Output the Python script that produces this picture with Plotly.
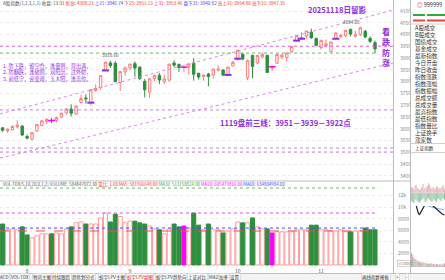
import plotly.graph_objects as go

W, H = 445, 280
FONT = "Noto Sans CJK SC"

# ---------------- data ----------------
idx = list(range(77))
opens = [3604, 3591, 3597, 3608, 3612, 3567, 3556, 3590, 3614, 3632,
         3635.5, 3636, 3650, 3667, 3684, 3663, 3712, 3731, 3711, 3763,
         3775, 3848, 3880, 3879, 3796, 3842, 3859, 3877, 3862, 3802,
         3756, 3813, 3827, 3800, 3807, 3880, 3874, 3861, 3863, 3880,
         3836, 3822, 3833, 3829, 3849, 3850, 3829, 3867, 3898, 3917,
         3817, 3912, 3880, 3905, 3912, 3858, 3879, 3905, 3903, 3928,
         3975, 3983, 3994, 4011, 3984, 3945, 3955, 3928, 3983, 3992,
         3996, 4022, 3994, 4002, 4015, 3985, 3966]
highs = [3606, 3600, 3615, 3636, 3613, 3575, 3584, 3618, 3635, 3645,
         3646, 3652, 3668, 3688, 3704, 3698, 3745, 3746, 3767, 3788,
         3826, 3884, 3888.6, 3887, 3845, 3866, 3875.8, 3887, 3866, 3812,
         3816, 3830, 3837, 3830, 3876, 3891, 3877, 3872, 3877, 3899.96,
         3838, 3829, 3838, 3855, 3870, 3853, 3863, 3888, 3936.6, 3923,
         3895, 3915, 3915, 3925, 3915, 3866, 3917, 3920, 3925, 3951,
         3999, 4010, 4016.6, 4025.7, 3988, 3978, 3980, 3971, 4009, 4004,
         4020, 4027, 4016, 4034.08, 4021, 3993, 3975]
lows = [3587, 3583, 3592, 3601, 3569, 3555, 3550, 3587, 3611, 3620,
        3624, 3626, 3645, 3660, 3652, 3659, 3706, 3707, 3699, 3758,
        3766, 3846, 3859, 3798, 3761, 3825, 3849, 3821, 3807, 3733,
        3731, 3803, 3791, 3791, 3800, 3863, 3842, 3842, 3830, 3805,
        3809, 3804, 3780, 3815, 3844, 3826, 3826, 3866, 3889, 3891,
        3807, 3815, 3876, 3899, 3838, 3845, 3876, 3896, 3885, 3924,
        3970, 3980, 3982, 3982, 3951, 3937, 3948, 3928, 3980, 3985,
        3990, 3994, 3988, 3994, 3985, 3965, 3921]
closes = [3593.7, 3597.9, 3609.7, 3615.7, 3573.2, 3560.0, 3583.3, 3617.6, 3634.0, 3639.7,
          3635.1, 3647.6, 3665.9, 3683.5, 3666.4, 3696.8, 3728.0, 3727.3, 3766.2, 3771.1,
          3825.8, 3883.6, 3868.4, 3800.4, 3843.6, 3857.9, 3875.5, 3858.1, 3813.6, 3765.9,
          3812.5, 3826.8, 3807.3, 3812.2, 3875.3, 3870.6, 3860.5, 3861.9, 3876.3, 3831.7,
          3820.1, 3828.6, 3821.8, 3853.6, 3853.3, 3828.1, 3862.5, 3882.8, 3934.0, 3897.0,
          3889.5, 3865.2, 3912.2, 3916.2, 3839.8, 3863.9, 3916.3, 3913.8, 3922.4, 3950.3,
          3996.9, 3988.2, 4016.3, 3986.9, 3954.8, 3976.5, 3960.2, 3969.3, 4007.8, 3997.6,
          4018.6, 4002.8, 4000.1, 4029.5, 3990.5, 3972.0, 3939.8]
volume = [7100, 6100, 6250, 6100, 6600, 5200, 4700, 5050, 5400, 5400,
          5400, 5550, 5400, 6250, 6600, 7300, 7450, 7100, 7100, 7100,
          8150, 9000, 7450, 8800, 8400, 7300, 7600, 7600, 7300, 7100,
          6750, 6250, 6100, 5400, 6250, 7100, 6600, 6750, 6400, 9000,
          6900, 6100, 7100, 6100, 6100, 5550, 5900, 6250, 7450, 7300,
          7300, 8150, 6600, 6250, 6250, 5550, 5750, 5750, 5750, 5750,
          6100, 6100, 6100, 6900, 6900, 6100, 6100, 5900, 5900, 6100,
          5750, 5750, 5900, 5900, 6400, 6100, 6100]
doji_days = [10, 37, 55]
magenta_vol_days = [37, 55]
signal_days = [18, 21, 46, 48, 60, 61, 68]
date_tick_idx = [5, 26, 48, 65]
date_tick_text = ["8", "9", "10", "11"]
price_ticks = [3400, 3450, 3500, 3550, 3600, 3650, 3700, 3750, 3800,
               3850, 3900, 3950, 4000, 4050, 4100]
vol_ticks = [2000, 4000, 6000, 8000, 10000, 12000]

# support / pressure levels and trend lines
level_3951, level_3922 = 3951, 3922
level_support = [3680, 3518, 3501]
trend_upper = ([-0.53, 79.67], [3663, 4105])
trend_lower = ([-0.53, 79.67], [3475, 3880])
vol_levels = [(13330, "#66bb66", "dot"), (9000, "#e050e0", "dot"),
              (6400, "#4a4aff", "dot"), (5890, "#ff4a4a", "dash")]

# mini intraday chart (right panel)
mini_x = list(range(30))
mini_price = [3962, 3964, 3966, 3963, 3955, 3946, 3938, 3936, 3940, 3945,
              3950, 3953, 3956, 3958, 3960, 3961, 3959, 3957, 3955, 3953,
              3950, 3948, 3946, 3944, 3942, 3940, 3939, 3937, 3936, 3935]
mini_avg = [3965, 3964, 3963, 3963, 3961, 3960, 3958, 3957, 3957, 3956,
            3955, 3955, 3954, 3954, 3953, 3953, 3952, 3951, 3951, 3950,
            3950, 3949, 3949, 3948, 3948, 3947, 3947, 3946, 3946, 3945]
mini_buy = [6, 5, 4, 7, 8, 5, 4, 3, 4, 6, 9, 5, 4, 6, 7, 10, 8, 5, 4, 6,
            5, 4, 7, 6, 5, 4, 5, 6, 8, 4]
mini_sell = [-8, -9, -10, -7, -6, -8, -9, -10, -8, -7, -5, -6, -9, -8, -6,
             -5, -7, -8, -9, -6, -7, -8, -9, -6, -5, -7, -8, -6, -5, -7]
mini_vol = [14, 12, 9, 8, 7, 6, 6, 5, 5, 4, 5, 4, 4, 3, 4, 3, 3, 4, 3, 3,
            3, 2, 3, 3, 2, 3, 2, 3, 2, 4]

side_labels = ["A股成交", "B股成交", "国债成交", "基金成交", "最新指数",
               "今日开盘", "昨日收盘", "指数涨跌", "指数涨幅", "指数振幅",
               "总成交额", "总成交量", "最高指数", "最低指数", "指数量比",
               "上证换手", "涨家数"]
tabs = [("ACD", 4, "#333"), ("VOL-TDX", 19.5, "#333"), ("物讯主图", 42, "#333"),
        ("持续跟踪", 61, "#333"), ("趋势划分式", 83, "#333"), ("蛟宇LPV主图", 112, "#333"),
        ("蛟宇LPV副图", 140, "#e02020"), ("蛟宇LPV趋势向", 171, "#333"),
        ("上证对比", 197, "#333"), ("MA2", 213, "#333"), ("加多", 224, "#333"),
        ("设置", 235, "#333"), ("画线指数", 371, "#333"), ("模板", 385, "#333"),
        ("+", 397, "#333"), ("-", 407, "#333")]
note_lines = ["1. 防下跌，留空仓，逢量则，营出满，",
              "2. 防翻跌，逢破则，双阳出，过外财，",
              "3. 前低守，迎变观，五木阳，逢高位。"]


def px(x):
    return x / W


def py(y):
    return 1 - y / H


UP_LINE = "#ff7a7a"
DOWN = "#2e8f3c"
MAG = "#ff00ff"
PURPLE = "#8e2de2"

fig = go.Figure()

# candles
fig.add_trace(go.Candlestick(
    x=idx, open=opens, high=highs, low=lows, close=closes,
    increasing=dict(line=dict(color=UP_LINE, width=1), fillcolor="#ffffff"),
    decreasing=dict(line=dict(color=DOWN, width=1), fillcolor=DOWN),
    whiskerwidth=0, xaxis="x", yaxis="y", hoverinfo="skip", showlegend=False))

# doji markers
fig.add_trace(go.Scatter(
    x=doji_days, y=[closes[i] for i in doji_days], mode="markers",
    marker=dict(symbol="line-ew", size=5, line=dict(color=MAG, width=1.5)),
    xaxis="x", yaxis="y", showlegend=False, hoverinfo="skip"))
# signal marks
fig.add_trace(go.Scatter(
    x=signal_days, y=[opens[i] for i in signal_days], mode="markers",
    marker=dict(symbol="line-ew", size=5, line=dict(color=PURPLE, width=2)),
    xaxis="x", yaxis="y", showlegend=False, hoverinfo="skip"))

# trend lines
for tl in (trend_upper, trend_lower):
    fig.add_trace(go.Scatter(x=tl[0], y=tl[1], mode="lines",
                             line=dict(color="#dd88e6", width=1, dash="dot"),
                             xaxis="x", yaxis="y", showlegend=False, hoverinfo="skip"))
# horizontal levels
xr = [-0.53, 79.67]
fig.add_trace(go.Scatter(x=xr, y=[level_3951] * 2, mode="lines",
                         line=dict(color="#e060e0", width=1, dash="dot"),
                         xaxis="x", yaxis="y", showlegend=False, hoverinfo="skip"))
fig.add_trace(go.Scatter(x=[-0.53, 76.3], y=[level_3922] * 2, mode="lines",
                         line=dict(color="#66bb66", width=1, dash="dot"),
                         xaxis="x", yaxis="y", showlegend=False, hoverinfo="skip"))
for lv in level_support:
    fig.add_trace(go.Scatter(x=xr, y=[lv] * 2, mode="lines",
                             line=dict(color="#c080e0", width=1, dash="dot"),
                             xaxis="x", yaxis="y", showlegend=False, hoverinfo="skip"))

# volume
fills, edges = [], []
for i in idx:
    if i in magenta_vol_days:
        fills.append(MAG); edges.append(MAG)
    elif closes[i] >= opens[i]:
        fills.append("#ffffff"); edges.append("#ff9a9a")
    else:
        fills.append(DOWN); edges.append(DOWN)
fig.add_trace(go.Bar(x=idx, y=volume, width=0.82,
                     marker=dict(color=fills, line=dict(color=edges, width=1)),
                     xaxis="x3", yaxis="y2", showlegend=False, hoverinfo="skip"))
for val, col, dsh in vol_levels:
    fig.add_trace(go.Scatter(x=[-0.53, 76.3], y=[val] * 2, mode="lines",
                             line=dict(color=col, width=1, dash=dsh),
                             xaxis="x3", yaxis="y2", showlegend=False, hoverinfo="skip"))

# mini intraday chart
fig.add_trace(go.Bar(x=mini_x, y=mini_buy, marker_color="#f07070", width=0.8,
                     xaxis="x2", yaxis="y4", showlegend=False, hoverinfo="skip"))
fig.add_trace(go.Bar(x=mini_x, y=mini_sell, marker_color="#3c9a3c", width=0.8,
                     xaxis="x2", yaxis="y4", showlegend=False, hoverinfo="skip"))
fig.add_trace(go.Scatter(x=mini_x, y=mini_avg, mode="lines",
                         line=dict(color="#7fb8f0", width=1),
                         xaxis="x2", yaxis="y3", showlegend=False, hoverinfo="skip"))
fig.add_trace(go.Scatter(x=mini_x, y=mini_price, mode="lines",
                         line=dict(color="#222222", width=1.2),
                         xaxis="x2", yaxis="y3", showlegend=False, hoverinfo="skip"))
fig.add_trace(go.Bar(x=mini_x, y=mini_vol, width=0.8,
                     marker_color=["#e04040" if k % 3 else "#3c9a3c" for k in mini_x],
                     xaxis="x2", yaxis="y5", showlegend=False, hoverinfo="skip"))

dom_x = [0, 393 / W]
axis_font = dict(family=FONT, size=5, color="#8a8a8a")
fig.update_layout(
    width=W, height=H, margin=dict(l=0, r=0, t=0, b=0),
    paper_bgcolor="#ffffff", plot_bgcolor="#ffffff",
    barmode="overlay", showlegend=False,
    font=dict(family=FONT),
    xaxis=dict(domain=dom_x, range=[-0.53, 79.67], anchor="y", showticklabels=False,
               showgrid=False, zeroline=False, rangeslider=dict(visible=False), fixedrange=True),
    yaxis=dict(domain=[py(180), py(8)], range=[3381.9, 4113.8], side="right", anchor="x",
               tickvals=price_ticks, tickfont=axis_font, ticks="", ticklabelstandoff=6,
               showgrid=True, gridcolor="#ededed", griddash="dot", zeroline=False),
    xaxis3=dict(domain=dom_x, range=[-0.53, 79.67], anchor="y2", matches="x",
                tickvals=date_tick_idx, ticktext=date_tick_text, ticks="",
                tickfont=dict(family=FONT, size=5, color="#555"), showgrid=False, zeroline=False),
    yaxis2=dict(domain=[py(267), py(182)], range=[-346, 14372], side="right", anchor="x3",
                tickvals=vol_ticks, tickfont=axis_font, ticks="", ticklabelstandoff=4,
                showgrid=True, gridcolor="#ededed", griddash="dot", zeroline=False),
    xaxis2=dict(domain=[411 / W, 1], range=[-0.5, 29.5], anchor="y3", visible=False),
    yaxis3=dict(domain=[py(220), py(195)], range=[3925, 3975], anchor="x2", visible=False),
    yaxis4=dict(domain=[py(206), py(180)], range=[-13, 13], anchor="x2", visible=False),
    yaxis5=dict(domain=[py(267), py(245)], range=[0, 22], anchor="x2", visible=False),
)

shapes = []
def hline(y, x0, x1, color="#bdbdbd", width=1):
    shapes.append(dict(type="line", xref="paper", yref="paper", x0=px(x0), x1=px(x1),
                       y0=py(y), y1=py(y), line=dict(color=color, width=width)))
def vline(x, y0, y1, color="#bdbdbd", width=1):
    shapes.append(dict(type="line", xref="paper", yref="paper", x0=px(x), x1=px(x),
                       y0=py(y0), y1=py(y1), line=dict(color=color, width=width)))
def rect(x0, y0, x1, y1, fill, line="rgba(0,0,0,0)"):
    shapes.append(dict(type="rect", xref="paper", yref="paper", x0=px(x0), x1=px(x1),
                       y0=py(y1), y1=py(y0), fillcolor=fill, line=dict(color=line, width=0.5)))

rect(0, 273.5, 445, 280, "#f3f3f3")
hline(181, 0, 410.5)
vline(393.5, 0, 273.5)
vline(410.5, 0, 273.5)
hline(273.5, 0, 445)
# right panel bars
rect(413, 14, 425, 16, "#2faa40"); rect(427, 14, 445, 16, "#2faa40")
rect(413, 19.5, 425, 21.5, "#f04040"); rect(427, 19.5, 445, 21.5, "#f04040")
hline(24, 410.5, 445, "#d0d0d0")
hline(143.5, 410.5, 445, "#d0d0d0")
hline(152.5, 410.5, 445, "#d0d0d0")
fig.update_layout(shapes=shapes)

ann = []
def text(x, y, s, size=5, color="#333", xa="left", ya="middle", bgcolor=None, border=None):
    d = dict(x=px(x), y=py(y), xref="paper", yref="paper", text=s, showarrow=False,
             xanchor=xa, yanchor=ya, font=dict(family=FONT, size=size, color=color))
    if border:
        d.update(bordercolor=border, borderwidth=0.5, borderpad=0.5)
    if bgcolor:
        d.update(bgcolor=bgcolor)
    ann.append(d)

# top header
text(1, 4, "A股指数(1,2,3,1,1) 收盘: 13:31 "
     "<span style='color:#ff3030'>新高: 4308.23</span> "
     "<span style='color:#4040ff'>上21: 3946.74</span> "
     "<span style='color:#ff3030'>下25: 3951.13</span> "
     "<span style='color:#ff3030'>上31: 3953.46</span> "
     "<span style='color:#4040ff'>盘下31: 3940.82</span> "
     "<span style='color:#ff3030'>高上31: 3954.80</span> "
     "<span style='color:#ff3030'>高下31: 3947.35</span>", size=4.6, color="#555")
text(415, 5, "<span style='color:#e03030'>◎</span> 999999", size=5.5, color="#333")

# main chart notes
text(337, 9, "<b>20251118日留影</b>", size=7.5, color=PURPLE, xa="center")
text(285, 122, "<b>1119盘前三线：3951－3939－3922点</b>", size=7.5, color=PURPLE, xa="center")
text(386, 47, "<b>看<br>跌<br>防<br>涨</b>", size=8, color=PURPLE, xa="center")
for k, line in enumerate(note_lines):
    text(1, 66 + 6.5 * k, line, size=5.2, color=PURPLE)
# high labels
ann.append(dict(x=22, y=highs[22], xref="x", yref="y", text="3888.60", showarrow=False,
                yanchor="bottom", xanchor="center", yshift=1,
                font=dict(family=FONT, size=4.6, color="#555")))
ann.append(dict(x=73, y=highs[73], xref="x", yref="y", text="4034.08", showarrow=False,
                yanchor="bottom", xanchor="right", yshift=0, xshift=2,
                font=dict(family=FONT, size=4.6, color="#555")))

# volume header
text(1, 184, "VOL-TDX(5,10,20,0,1,2) VOLUME: 584847072.00 "
     "<span style='color:#ff3030'>量比: 1.08 MA5: 581966648.00</span> "
     "<span style='color:#33aa33'>MA10: 513158824.00</span> "
     "<span style='color:#ff00ff'>MA20: 605473816.00</span> "
     "<span style='color:#4040ff'>MA60: 634804984.00</span>", size=4.4, color="#555")

# right side list
for k, s in enumerate(side_labels):
    text(413, 28 + 7 * k, s, size=5.6, color="#333")
text(413, 148, "上证指数", size=4.6, color="#333")
text(405, 263, "×100亿", size=3.8, color="#777", xa="center", border="#aaaaaa")

# tabs
for s, xc, col in tabs:
    text(xc, 277, s, size=4.5, color=col, xa="center", border="#c4c4c4", bgcolor="#fafafa")

fig.update_layout(annotations=ann)
fig.write_html("out.html", config={"displayModeBar": False})
